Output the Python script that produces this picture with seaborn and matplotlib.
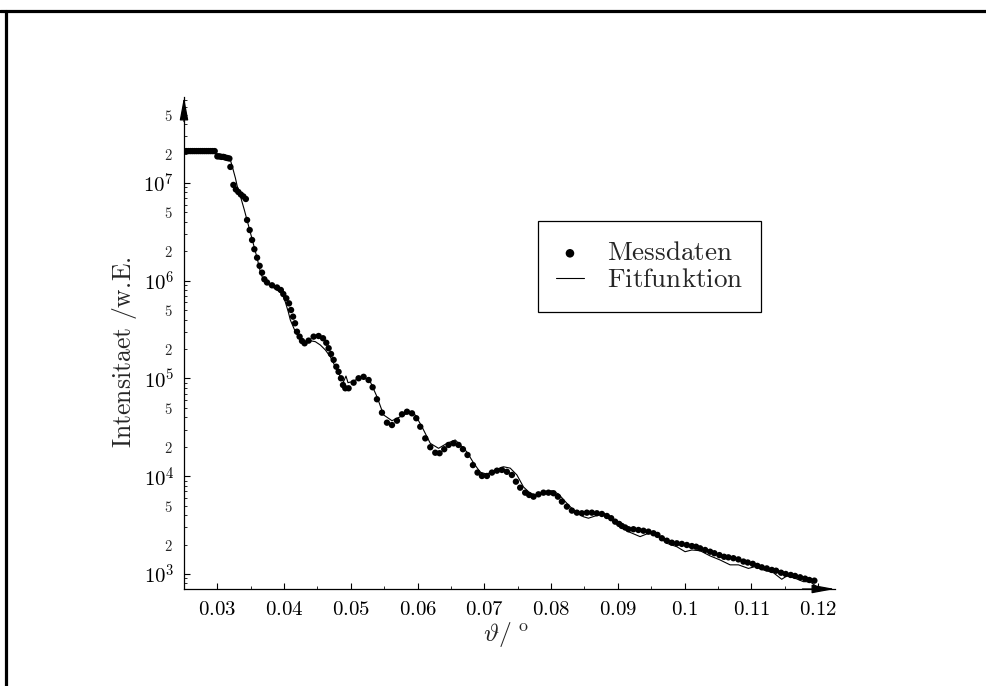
import numpy as np
import pandas as pd
import matplotlib
matplotlib.use("Agg")
import matplotlib.pyplot as plt
import seaborn as sns
from matplotlib.ticker import FixedLocator, FuncFormatter
from matplotlib.lines import Line2D

# ---------------- data ----------------
theta_mess = [
    0.0251, 0.0254, 0.0257, 0.0260, 0.0263, 0.0266, 0.0269, 0.0272, 0.0275, 0.0278,
    0.0281, 0.0284, 0.0287, 0.0290, 0.0293, 0.0296,
    0.0300, 0.0303, 0.0306, 0.0309, 0.0312, 0.0315, 0.0318,
    0.03195, 0.03240, 0.03277, 0.03314, 0.03352, 0.03389, 0.03427,
    0.03445, 0.03484, 0.03520, 0.03554, 0.03595, 0.03633, 0.03669, 0.03704, 0.03744,
    0.03819, 0.03894, 0.03951, 0.03988, 0.04033, 0.04074, 0.04104, 0.04134, 0.04164, 0.04193,
    0.04232, 0.04268, 0.04307, 0.04367, 0.04442, 0.04517, 0.04583, 0.04632, 0.04667, 0.04703,
    0.04742, 0.04782, 0.04816, 0.04852, 0.04882, 0.04917, 0.04966, 0.05041, 0.05116, 0.05191,
    0.05266, 0.05326, 0.05391, 0.05466, 0.05541, 0.05616, 0.05691, 0.05766, 0.05841, 0.05916,
    0.05980, 0.06040, 0.06115, 0.06190, 0.06265, 0.06329, 0.06399, 0.06464, 0.06539, 0.06613,
    0.06679, 0.06748, 0.06829, 0.06898, 0.06964, 0.07039, 0.07114, 0.07189, 0.07263, 0.07338,
    0.07413, 0.07473, 0.07537, 0.07612, 0.07672, 0.07737, 0.07811, 0.07886, 0.07961, 0.08036,
    0.08102, 0.08162, 0.08237, 0.08312, 0.08387, 0.08461, 0.08536, 0.08611, 0.08686, 0.08761,
    0.08836, 0.08900, 0.08960, 0.09020, 0.09060, 0.09110, 0.09159, 0.09234, 0.09309, 0.09384,
    0.09459, 0.09534, 0.09594, 0.09660, 0.09734, 0.09809, 0.09884, 0.09959, 0.10034, 0.10109,
    0.10173, 0.10233, 0.10308, 0.10383, 0.10447, 0.10522, 0.10592, 0.10657, 0.10732, 0.10807,
    0.10882, 0.10947, 0.11022, 0.11091, 0.11157, 0.11232, 0.11307, 0.11371, 0.11446, 0.11516,
    0.11591, 0.11656, 0.11731, 0.11806, 0.11870, 0.11945,
]
int_mess = [
    2.12e7, 2.12e7, 2.12e7, 2.12e7, 2.12e7, 2.12e7, 2.12e7, 2.12e7, 2.12e7, 2.12e7,
    2.12e7, 2.12e7, 2.12e7, 2.12e7, 2.12e7, 2.12e7,
    1.87e7, 1.87e7, 1.85e7, 1.85e7, 1.82e7, 1.80e7, 1.78e7,
    1.46e7, 9.55e6, 8.58e6, 8.09e6, 7.62e6, 7.28e6, 6.86e6,
    4.18e6, 3.30e6, 2.61e6, 2.10e6, 1.72e6, 1.42e6, 1.21e6, 1.035e6, 9.6e5,
    8.98e5, 8.53e5, 8.04e5, 7.31e5, 6.61e5, 5.87e5, 5.02e5, 4.29e5, 3.67e5, 3.01e5,
    2.68e5, 2.42e5, 2.29e5, 2.44e5, 2.68e5, 2.72e5, 2.58e5, 2.32e5, 2.04e5, 1.78e5,
    1.55e5, 1.32e5, 1.17e5, 1.005e5, 8.58e4, 7.94e4, 7.94e4, 9.06e4, 1.005e5, 1.04e5,
    9.65e4, 8.13e4, 6.13e4, 4.47e4, 3.53e4, 3.34e4, 3.70e4, 4.30e4, 4.57e4, 4.40e4,
    3.92e4, 3.21e4, 2.44e4, 1.98e4, 1.74e4, 1.72e4, 1.89e4, 2.09e4, 2.17e4, 2.09e4,
    1.89e4, 1.65e4, 1.30e4, 1.09e4, 1.006e4, 1.006e4, 1.09e4, 1.14e4, 1.16e4, 1.11e4,
    1.03e4, 8.80e3, 7.64e3, 6.79e3, 6.43e3, 6.18e3, 6.53e3, 6.79e3, 6.79e3, 6.70e3,
    6.18e3, 5.50e3, 4.89e3, 4.45e3, 4.24e3, 4.18e3, 4.24e3, 4.24e3, 4.18e3, 4.11e3,
    3.92e3, 3.72e3, 3.43e3, 3.25e3, 3.10e3, 2.99e3, 2.87e3, 2.87e3, 2.82e3, 2.77e3,
    2.71e3, 2.61e3, 2.51e3, 2.32e3, 2.19e3, 2.09e3, 2.06e3, 2.03e3, 1.98e3, 1.93e3,
    1.90e3, 1.83e3, 1.76e3, 1.69e3, 1.63e3, 1.56e3, 1.50e3, 1.48e3, 1.45e3, 1.41e3,
    1.34e3, 1.31e3, 1.27e3, 1.21e3, 1.17e3, 1.14e3, 1.10e3, 1.08e3, 1.03e3, 1.00e3,
    977, 955, 925, 896, 868, 855,
]

theta_fit = [
    0.02506, 0.02745, 0.02970, 0.03120, 0.03195, 0.03225, 0.03270, 0.03300, 0.03344, 0.03404,
    0.03464, 0.03524, 0.03595, 0.03644, 0.03689, 0.03749, 0.03824, 0.03913, 0.03973, 0.04018,
    0.04063, 0.04093, 0.04168, 0.04243, 0.04318, 0.04382, 0.04468, 0.04543, 0.04617, 0.04692,
    0.04767, 0.04842, 0.04891, 0.04927, 0.04957, 0.05017, 0.05092, 0.05191, 0.05291, 0.05391,
    0.05490, 0.05616, 0.05740, 0.05865, 0.05965, 0.06065, 0.06190, 0.06314, 0.06440, 0.06564,
    0.06665, 0.06739, 0.06838, 0.06938, 0.07039, 0.07163, 0.07287, 0.07388, 0.07488, 0.07587,
    0.07687, 0.07777, 0.07886, 0.08012, 0.08111, 0.08237, 0.08361, 0.08485, 0.08560, 0.08661,
    0.08785, 0.08885, 0.08985, 0.09035, 0.09159, 0.09334, 0.09459, 0.09584, 0.09734, 0.09884,
    0.10008, 0.10109, 0.10233, 0.10383, 0.10533, 0.10682, 0.10807, 0.10957, 0.11057, 0.11181,
    0.11331, 0.11456, 0.11531, 0.11656, 0.11781, 0.11880, 0.11980,
]
int_fit = [
    2.05e7, 2.03e7, 2.00e7, 1.93e7, 1.72e7, 1.46e7, 1.125e7, 9.1e6, 7.36e6, 5.30e6,
    3.72e6, 2.61e6, 1.71e6, 1.23e6, 1.02e6, 9.27e5, 8.64e5, 7.86e5, 7.31e5, 6.06e5,
    4.79e5, 3.97e5, 3.01e5, 2.48e5, 2.32e5, 2.44e5, 2.38e5, 2.20e5, 1.96e5, 1.67e5,
    1.32e5, 1.04e5, 9.27e4, 1.06e5, 9.06e4, 9.27e4, 9.82e4, 1.03e5, 9.27e4, 6.52e4,
    4.24e4, 3.70e4, 4.06e4, 4.47e4, 4.24e4, 3.21e4, 2.17e4, 1.93e4, 2.17e4, 2.35e4,
    2.01e4, 1.77e4, 1.37e4, 1.10e4, 1.05e4, 1.16e4, 1.25e4, 1.21e4, 1.03e4, 7.76e3,
    6.70e3, 6.43e3, 6.95e3, 7.11e3, 6.58e3, 5.28e3, 4.34e3, 3.85e3, 3.72e3, 3.92e3,
    4.18e3, 3.85e3, 3.43e3, 3.10e3, 2.71e3, 2.41e3, 2.61e3, 2.51e3, 2.06e3, 1.90e3,
    1.69e3, 1.76e3, 1.73e3, 1.53e3, 1.39e3, 1.24e3, 1.24e3, 1.14e3, 1.19e3, 1.10e3,
    1.03e3, 883, 955, 904, 834, 834, 741,
]

x_ticks = [0.03, 0.04, 0.05, 0.06, 0.07, 0.08, 0.09, 0.10, 0.11, 0.12]
x_tick_labels = ["0.03", "0.04", "0.05", "0.06", "0.07", "0.08", "0.09", "0.1", "0.11", "0.12"]
y_major = [1e3, 1e4, 1e5, 1e6, 1e7]
y_major_labels = [r"$10^{3}$", r"$10^{4}$", r"$10^{5}$", r"$10^{6}$", r"$10^{7}$"]
y_labelled_mantissas = [2, 5]
legend_labels = [r"$\mathrm{Messdaten}$", r"$\mathrm{Fitfunktion}$"]

# ---------------- style ----------------
sns.set_style("ticks")
plt.rcParams["mathtext.fontset"] = "cm"
plt.rcParams["font.family"] = ["DejaVu Serif"]

W, H = 986, 686
fig = plt.figure(figsize=(W / 100, H / 100), dpi=100)
x0, x1, yb, yt = 184, 835, 589, 97
ax = fig.add_axes([x0 / W, 1 - yb / H, (x1 - x0) / W, (yb - yt) / H])
ax.set_yscale("log")

df_mess = pd.DataFrame({"theta": theta_mess, "I": int_mess})
df_fit = pd.DataFrame({"theta": theta_fit, "I": int_fit})

sns.lineplot(data=df_fit, x="theta", y="I", ax=ax, color="black", lw=0.8,
             estimator=None, sort=False, label=legend_labels[1], zorder=2)
sns.scatterplot(data=df_mess, x="theta", y="I", ax=ax, color="black", s=21,
                edgecolor="none", linewidth=0, label=legend_labels[0], zorder=3)

ax.set_xlim(0.025, 0.12254)
ax.set_ylim(702, 7.58e7)

# spines
for s in ["top", "right"]:
    ax.spines[s].set_visible(False)
for s in ["left", "bottom"]:
    ax.spines[s].set_linewidth(0.9)
    ax.spines[s].set_color("black")

# arrows at axis ends
arrow_kw = dict(arrowstyle="-|>,head_length=0.7,head_width=0.13", color="black",
                lw=0.9, shrinkA=0, shrinkB=0, mutation_scale=20)
ax.annotate("", xy=(0, 1.0), xytext=(0, 0.95), xycoords="axes fraction",
            arrowprops=arrow_kw, annotation_clip=False)
ax.annotate("", xy=(1.0, 0), xytext=(0.95, 0), xycoords="axes fraction",
            arrowprops=arrow_kw, annotation_clip=False)

# x ticks
ax.xaxis.set_major_locator(FixedLocator(x_ticks))
ax.set_xticklabels([f"${t}$" for t in x_tick_labels])
ax.xaxis.set_minor_locator(FixedLocator([t + 0.005 for t in x_ticks[:-1]]))
ax.tick_params(axis="x", which="major", direction="in", length=4, width=0.8,
               labelsize=15, pad=8, colors="black")
ax.tick_params(axis="x", which="minor", direction="in", length=2, width=0.7)

# y ticks
ax.yaxis.set_major_locator(FixedLocator(y_major))
ax.set_yticklabels(y_major_labels)
minor_vals = [m * 10.0 ** e for e in range(2, 8) for m in range(2, 10)]
ax.yaxis.set_minor_locator(FixedLocator(minor_vals))


def minor_fmt(v, pos):
    m = int(round(v / 10 ** np.floor(np.log10(v) + 1e-9)))
    return f"${m}$" if m in y_labelled_mantissas else ""


ax.yaxis.set_minor_formatter(FuncFormatter(minor_fmt))
ax.tick_params(axis="y", which="major", direction="in", length=4, width=0.8,
               labelsize=15, pad=7, colors="black")
ax.tick_params(axis="y", which="minor", direction="in", length=2.5, width=0.7,
               labelsize=10.5, pad=8)

# axis labels
ax.set_xlabel(r"$\vartheta/\;^{\mathrm{o}}$", fontsize=18.5)
ax.xaxis.set_label_coords(0.495, -0.063)
ax.set_ylabel(r"$\mathrm{Intensitaet}\ /\mathrm{w.\!E.}$", fontsize=18.5)
ax.yaxis.set_label_coords(-0.069, 0.482)

# legend (Messdaten first)
h, l = ax.get_legend_handles_labels()
order = [l.index(legend_labels[0]), l.index(legend_labels[1])]
leg = ax.legend([h[i] for i in order], [l[i] for i in order],
                loc="upper left", bbox_to_anchor=(538 / W, 1 - 221 / H),
                bbox_transform=fig.transFigure, borderaxespad=0, fontsize=19.5,
                frameon=True, fancybox=False, edgecolor="black", framealpha=1,
                handlelength=1.0, handletextpad=0.85, borderpad=0.68,
                labelspacing=0.0, markerscale=1.35)
leg.get_frame().set_linewidth(0.9)

# page frame (top and left)
fig.add_artist(Line2D([0, 1], [1 - 10.5 / H] * 2, transform=fig.transFigure,
                      color="black", lw=2.3))
fig.add_artist(Line2D([5.5 / W] * 2, [0, 1 - 10.5 / H], transform=fig.transFigure,
                      color="black", lw=2.3))

fig.savefig("out.png", dpi=100, facecolor="white")
